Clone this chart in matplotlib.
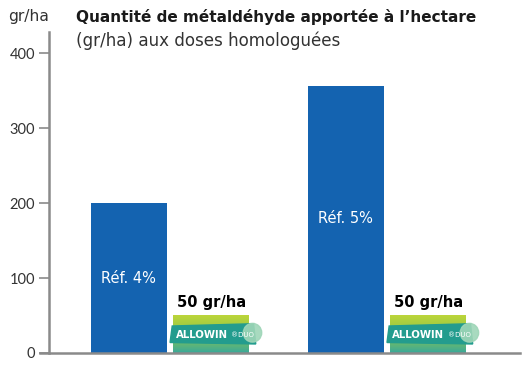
import matplotlib.pyplot as plt
import numpy as np
from matplotlib.patches import Polygon, Ellipse
from matplotlib.colors import LinearSegmentedColormap

# Données
groups = ["Réf. 4%", "Réf. 5%"]
ref_values = [200, 356]
allowin_values = [50, 50]
allowin_label = "50 gr/ha"
yticks = [0, 100, 200, 300, 400]

blue = "#1463b0"
grey = "#8a8a8a"
txt = "#333333"
wide = ['DejaVu Sans']

plt.rcParams['font.family'] = ['Lato', 'DejaVu Sans']

fig = plt.figure(figsize=(5.28, 3.68), dpi=100)
ax = fig.add_axes([0.0928, 0.0408, 0.892, 0.872])

x = np.arange(len(groups))
w = 0.35
off = 0.19

ax.bar(x - off, ref_values, w, color=blue, zorder=2)

# barres ALLOWIN DUO avec dégradé vert -> turquoise
grad = np.linspace(0, 1, 100).reshape(-1, 1)
cmap = LinearSegmentedColormap.from_list("g", ["#bcd53a", "#8fc548", "#3aa99a"])
for i, v in zip(x, allowin_values):
    x0, x1 = i + off - w / 2, i + off + w / 2
    ax.imshow(grad, extent=(x0, x1, 0, v), aspect='auto', cmap=cmap,
              origin='upper', zorder=2)
    # bandeau logo
    ban = Polygon([(x0 - 0.015, 14), (x0 - 0.005, 36), (x1 + 0.02, 39),
                   (x1 + 0.03, 12)], closed=True, color="#239c8e", zorder=3)
    ax.add_patch(ban)
    ax.add_patch(Ellipse((x1 + 0.015, 27), 0.085, 25, color="#9fd6b8",
                         alpha=0.9, zorder=4))
    ax.text(x0 + 0.01, 24, "ALLOWIN", color="white", fontsize=7.3,
            fontweight='bold', va='center', ha='left', zorder=5, family=wide)
    ax.text(x0 + 0.268, 24, "®DUO", color="white", fontsize=5,
            va='center', ha='left', zorder=5, family=wide)
    ax.text(i + off, 68, allowin_label, color="black", fontsize=10.5,
            fontweight='bold', ha='center', va='center', zorder=5, family=wide)

ax.text(x[0] - off, 100, groups[0], color="white", fontsize=10.5,
        ha='center', va='center', zorder=5, family=wide)
ax.text(x[1] - off, 180, groups[1], color="white", fontsize=10.5,
        ha='center', va='center', zorder=5, family=wide)

ax.set_xlim(-0.558, 1.613)
ax.set_ylim(0, 428)
ax.set_yticks(yticks)
ax.set_xticks([])
ax.tick_params(axis='y', direction='out', length=7, width=1.2, color=grey,
               labelsize=10.5, labelcolor=txt, pad=3)
for s in ['top', 'right']:
    ax.spines[s].set_visible(False)
ax.spines['left'].set_color(grey)
ax.spines['left'].set_linewidth(1.8)
ax.spines['bottom'].set_color(grey)
ax.spines['bottom'].set_linewidth(1.8)
ax.spines['bottom'].set_bounds(-0.6, 1.613)
ax.spines['bottom'].set_clip_on(False)

fig.text(0.016, 0.955, "gr/ha", fontsize=11.2, color=txt, va='center', ha='left',
         family=wide)
fig.text(0.144, 0.955, "Quantité de métaldéhyde apportée à l’hectare",
         fontsize=11, fontweight='bold', color="#1a1a1a", va='center',
         family=wide)
fig.text(0.144, 0.89, "(gr/ha) aux doses homologuées",
         fontsize=12.1, color=txt, va='center', family=wide)

fig.savefig("out.png", dpi=100)
